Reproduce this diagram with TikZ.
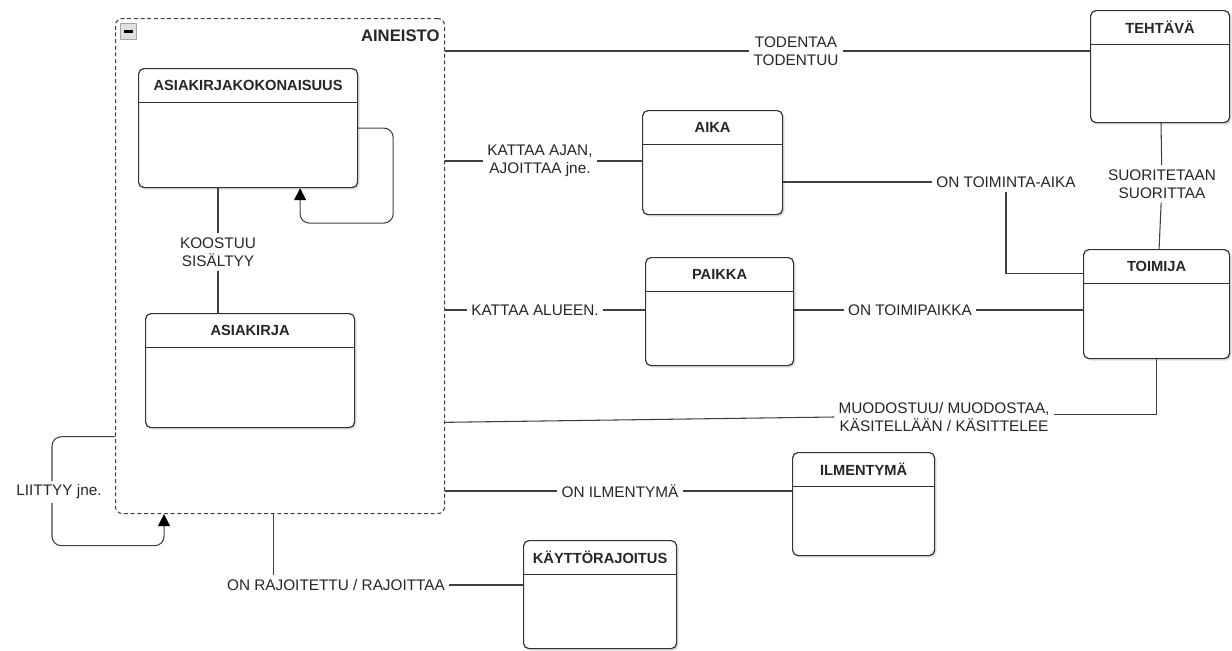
\documentclass[tikz,border=0pt]{standalone}
\usepackage{fontspec}
\setmainfont{Liberation Sans}
\usetikzlibrary{arrows.meta,positioning,shadows}
\tikzset{
  entitybox/.style = {
    rectangle,
    draw=black!80,
    fill=white,
    line width=0.9pt,
    rounded corners=4pt,
    drop shadow={shadow xshift=1.5pt, shadow yshift=-1.5pt, opacity=0.25},
    anchor=north west,
    inner sep=0pt
  },
  entitytitle/.style = {
    font=\fontsize{11}{12}\selectfont\bfseries,
    text=black!85,
    inner sep=0pt
  },
  entityline/.style = {
    draw=black!80,
    line width=0.9pt
  },
  groupbox/.style = {
    rectangle,
    draw=black!75,
    line width=0.8pt,
    dash pattern=on 3pt off 2pt,
    rounded corners=5pt,
    anchor=north west,
    inner sep=0pt
  },
  grouptitle/.style = {
    font=\fontsize{12.5}{13}\selectfont\bfseries,
    text=black!85,
    inner sep=0pt
  },
  collapsebox/.style = {
    rectangle,
    draw=gray!70,
    fill=gray!25,
    minimum size=12pt,
    inner sep=0pt
  },
  rellabel/.style = {
    align=center,
    fill=white,
    inner sep=3pt,
    text=black!85,
    font=\fontsize{11.5}{13.5}\selectfont
  },
  relline/.style = {
    draw=black!75,
    line width=0.8pt
  },
  selfarrow/.style = {
    relline,
    rounded corners=7pt,
    -{Triangle[width=9pt,length=9pt,black]}
  }
}
% name, left, top, width, height, title
\newcommand{\entity}[6]{%
  \node[entitybox, minimum width=#4*0.75pt, minimum height=#5*0.75pt] (#1) at (#2,#3) {};
  \node[entitytitle] (#1-title) at ([yshift=-13pt]#1.north) {#6};
  \draw[entityline] ([yshift=-26pt]#1.north west) -- ([yshift=-26pt]#1.north east);
}

\begin{document}
\begin{tikzpicture}[x=0.75pt, y=-0.75pt]
    \useasboundingbox (0,0) rectangle (1232,650);

    % group
    \node[groupbox, minimum width=329*0.75pt, minimum height=495*0.75pt] (aineisto) at (115,18) {};
    \node[grouptitle, anchor=east] (aineisto-title) at ([xshift=-4pt, yshift=-13pt]aineisto.north east) {AINEISTO};
    \node[collapsebox] (collapse) at ([xshift=10pt, yshift=-10pt]aineisto.north west) {};
    \draw[line width=2pt] ([xshift=-3.5pt]collapse.center) -- ([xshift=3.5pt]collapse.center);

    % entities
    \entity{kokonaisuus}{138}{68}{219}{119}{ASIAKIRJAKOKONAISUUS}
    \entity{asiakirja}{145}{313}{209}{114}{ASIAKIRJA}
    \entity{aika}{642}{110}{140}{104}{AIKA}
    \entity{paikka}{645}{257}{148}{108}{PAIKKA}
    \entity{tehtava}{1090}{10}{139}{112}{TEHTÄVÄ}
    \entity{toimija}{1083}{249}{146}{109}{TOIMIJA}
    \entity{ilmentyma}{792}{452}{142}{103}{ILMENTYMÄ}
    \entity{kayttorajoitus}{523}{540}{153}{108}{KÄYTTÖRAJOITUS}

    % relation labels
    \node[rellabel] (todentaa) at (796,51) {TODENTAA\\TODENTUU};
    \node[rellabel] (kattaaajan) at (540,161) {KATTAA AJAN,\\AJOITTAA jne.};
    \node[rellabel] (toimintaaika) at (1006,182) {ON TOIMINTA-AIKA};
    \node[rellabel] (kattaaalueen) at (535,310) {KATTAA ALUEEN.};
    \node[rellabel] (toimipaikka) at (910,310) {ON TOIMIPAIKKA};
    \node[rellabel] (muodostuu) at (944,417) {MUODOSTUU/ MUODOSTAA,\\KÄSITELLÄÄN / KÄSITTELEE};
    \node[rellabel] (onilmentyma) at (620,491) {ON ILMENTYMÄ};
    \node[rellabel] (rajoitettu) at (336,585) {ON RAJOITETTU / RAJOITTAA};
    \node[rellabel] (suoritetaan) at (1162,184) {SUORITETAAN\\SUORITTAA};
    \node[rellabel] (koostuu) at (218,252) {KOOSTUU\\SISÄLTYY};

    % connectors
    \draw[relline] (aineisto.east |- todentaa) -- (todentaa) -- (tehtava.west |- todentaa);
    \draw[relline] (aineisto.east |- kattaaajan) -- (kattaaajan) -- (aika.west |- kattaaajan);
    \draw[relline] (aika.east |- toimintaaika) -- (toimintaaika);
    \draw[relline] (toimintaaika) |- ([yshift=23pt]toimija.west);
    \draw[relline] (aineisto.east |- kattaaalueen) -- (kattaaalueen) -- (paikka.west |- kattaaalueen);
    \draw[relline] (paikka.east |- toimipaikka) -- (toimipaikka) -- (toimija.west |- toimipaikka);
    \draw[relline] ([yshift=-4pt]aineisto.east |- muodostuu) -- (muodostuu.west);
    \draw[relline] ([yshift=2pt]muodostuu.east) -| (toimija.south);
    \draw[relline] (aineisto.east |- onilmentyma) -- (onilmentyma) -- (ilmentyma.west |- onilmentyma);
    \draw[relline] ([xshift=-5pt]aineisto.south) -- ([xshift=-5pt]aineisto.south |- rajoitettu.north);
    \draw[relline] (rajoitettu) -- (kayttorajoitus.west |- rajoitettu);
    \draw[relline] (tehtava) -- (suoritetaan) -- (toimija);
    \draw[relline] (kokonaisuus.south -| koostuu) -- (koostuu) -- (asiakirja.north -| koostuu);

    % self relations
    \draw[selfarrow] (kokonaisuus.east) -- ++(35,0) -- ++(0,95) -| ([xshift=39pt]kokonaisuus.south);
    \draw[selfarrow] ([yshift=-128pt]aineisto.west) -- ++(-63,0) -- ++(0,109) -| ([xshift=-87pt]aineisto.south);
    \node[rellabel] (liittyy) at (59,492) {LIITTYY jne.};
  \end{tikzpicture}
\end{document}
